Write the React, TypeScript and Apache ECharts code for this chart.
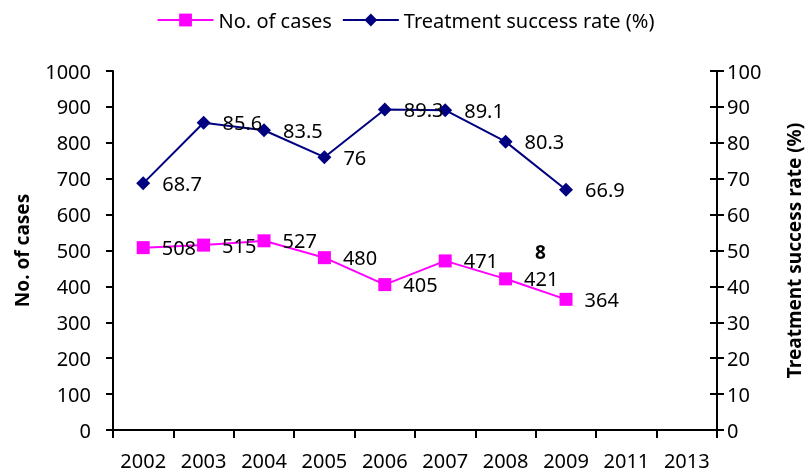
import React, { useEffect, useRef } from "react";
import * as echarts from "echarts";

const years = ["2002", "2003", "2004", "2005", "2006", "2007", "2008", "2009", "2011", "2013"];
const cases = [508, 515, 527, 480, 405, 471, 421, 364];
const successRate = [68.7, 85.6, 83.5, 76, 89.3, 89.1, 80.3, 66.9];
const leftTicks = { min: 0, max: 1000, interval: 100 };
const rightTicks = { min: 0, max: 100, interval: 10 };
const strayNote = "8";

const FONT = "Noto Sans";

export default function App() {
  const ref = useRef<HTMLDivElement>(null);
  useEffect(() => {
    if (!ref.current) return;
    const chart = echarts.init(ref.current, null, { renderer: "svg" });
    const axisLine = { show: true, lineStyle: { color: "#000", width: 2 } };
    chart.setOption({
      animation: false,
      textStyle: { fontFamily: FONT },
      legend: {
        top: 5,
        left: "center",
        itemWidth: 56,
        itemHeight: 16,
        itemGap: 10,
        textStyle: { fontFamily: FONT, fontSize: 20, color: "#000" },
        data: ["No. of cases", "Treatment success rate (%)"],
      },
      grid: { left: 113, right: 87, top: 71, bottom: 45, containLabel: false },
      xAxis: {
        type: "category",
        data: years,
        boundaryGap: true,
        axisLine,
        axisTick: { show: true, length: 8, interval: 0, lineStyle: { color: "#000", width: 2 } },
        axisLabel: { fontFamily: FONT, fontSize: 20, color: "#000", margin: 20, interval: 0 },
      },
      yAxis: [
        {
          type: "value",
          ...leftTicks,
          position: "left",
          name: "No. of cases",
          nameLocation: "middle",
          nameGap: 82,
          nameTextStyle: { fontFamily: FONT, fontSize: 19, fontWeight: "bold", color: "#000" },
          axisLine,
          axisTick: { show: true, length: 7, lineStyle: { color: "#000", width: 2 } },
          axisLabel: { fontFamily: FONT, fontSize: 20, color: "#000", margin: 22, formatter: (v: number) => String(v) },
          splitLine: { show: false },
        },
        {
          type: "value",
          ...rightTicks,
          position: "right",
          name: "Treatment success rate (%)",
          nameLocation: "middle",
          nameGap: 67,
          nameTextStyle: { fontFamily: FONT, fontSize: 19, fontWeight: "bold", color: "#000" },
          axisLine,
          axisTick: { show: true, length: 7, lineStyle: { color: "#000", width: 2 } },
          axisLabel: { fontFamily: FONT, fontSize: 20, color: "#000", margin: 10 },
          splitLine: { show: false },
        },
        {
          type: "value",
          ...rightTicks,
          position: "right",
          axisLine: { show: false },
          axisTick: { show: true, inside: true, length: 7, lineStyle: { color: "#000", width: 2 } },
          axisLabel: { show: false },
          splitLine: { show: false },
        },
      ],
      series: [
        {
          name: "No. of cases",
          type: "line",
          yAxisIndex: 0,
          data: cases,
          symbol: "rect",
          symbolSize: 13,
          lineStyle: { color: "#FF00FF", width: 2 },
          itemStyle: { color: "#FF00FF" },
          label: {
            show: true,
            position: "right",
            distance: 12,
            fontFamily: FONT,
            fontSize: 20,
            color: "#000",
          },
        },
        {
          name: "Treatment success rate (%)",
          type: "line",
          yAxisIndex: 1,
          data: successRate,
          symbol: "diamond",
          symbolSize: 14,
          lineStyle: { color: "#000080", width: 2 },
          itemStyle: { color: "#000080" },
          label: {
            show: true,
            position: "right",
            distance: 12,
            fontFamily: FONT,
            fontSize: 20,
            color: "#000",
          },
        },
      ],
      graphic: [
        {
          type: "text",
          left: 535,
          top: 242,
          style: { text: strayNote, fontFamily: FONT, fontSize: 19, fontWeight: "bold", fill: "#000" },
        },
      ],
    });
    return () => chart.dispose();
  }, []);
  return <div ref={ref} style={{ position: "fixed", left: 0, top: 0, width: 811, height: 475 }} />;
}
